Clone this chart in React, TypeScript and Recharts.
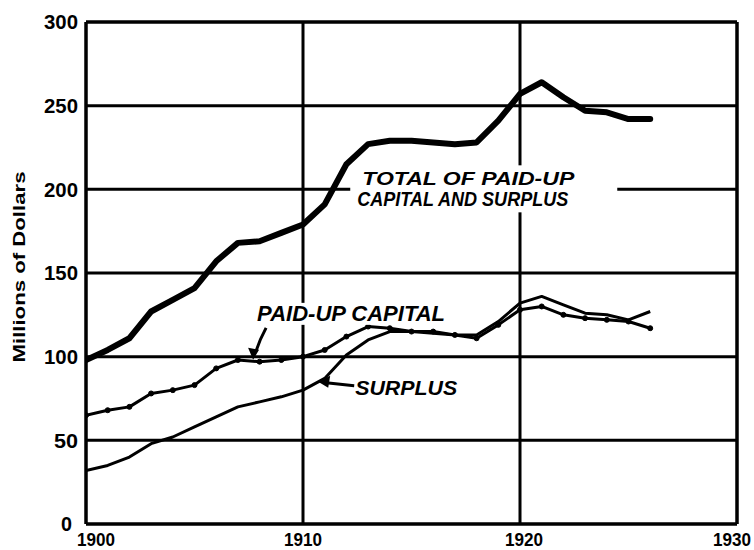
import React from 'react';
import { LineChart, Line, XAxis, YAxis, CartesianGrid, ReferenceDot, ReferenceLine } from 'recharts';

const years = [1900, 1901, 1902, 1903, 1904, 1905, 1906, 1907, 1908, 1909, 1910, 1911, 1912, 1913, 1914, 1915, 1916, 1917, 1918, 1919, 1920, 1921, 1922, 1923, 1924, 1925, 1926];
const paidUpCapital = [65, 68, 70, 78, 80, 83, 93, 98, 97, 98, 100, 104, 112, 118, 117, 115, 115, 113, 111, 119, 128, 130, 125, 123, 122, 121, 117];
const surplus = [32, 35, 40, 48, 52, 58, 64, 70, 73, 76, 80, 87, 101, 110, 115, 115, 114, 113, 113, 121, 132, 136, 131, 126, 125, 122, 127];
const totalCapitalSurplus = [98, 104, 111, 127, 134, 141, 157, 168, 169, 174, 179, 191, 215, 227, 229, 229, 228, 227, 228, 241, 257, 264, 255, 247, 246, 242, 242];

const xTicks = [1900, 1910, 1920, 1930];
const yTicks = [0, 50, 100, 150, 200, 250, 300];

const yAxisTitle = 'Millions of Dollars';
const totalLabelLines = ['TOTAL OF PAID-UP', 'CAPITAL AND SURPLUS'];
const paidUpLabel = 'PAID-UP CAPITAL';
const surplusLabel = 'SURPLUS';

// annotation anchors in data coordinates
const totalLabelAnchor = { year: 1912.5, value: 200 };
const paidUpArrowTip = { year: 1907.7, value: 97.5 };
const surplusArrowTip = { year: 1910.7, value: 85 };

const data = years.map((year, i) => ({
  year,
  paid: paidUpCapital[i],
  surplus: surplus[i],
  total: totalCapitalSurplus[i],
}));

const FONT = '"Liberation Sans", Arial, Helvetica, sans-serif';

const center = (props: any) => {
  const vb = props.viewBox || {};
  return { cx: (vb.x || 0) + (vb.width || 0) / 2, cy: (vb.y || 0) + (vb.height || 0) / 2 };
};

const XTick = (props: any) => {
  const { x, y, payload } = props;
  const v = payload.value;
  const shift = v === 1900 ? 10 : v === 1920 ? 4 : v === 1930 ? -5 : 0;
  return (
    <text x={x + shift} y={y} dy="0.78em" textAnchor="middle" fontFamily={FONT} fontWeight={700} fontSize={18} textLength={38} lengthAdjust="spacingAndGlyphs" fill="#000">
      {v}
    </text>
  );
};

const YTick = (props: any) => {
  const { x, y, payload } = props;
  const v = payload.value;
  const s = String(v);
  const len = s.length === 3 ? 34 : s.length === 2 ? 24 : 11;
  return (
    <text x={v === 0 ? x - 6 : x} y={y} dy="0.36em" textAnchor="end" fontFamily={FONT} fontWeight={700} fontSize={20} textLength={len} lengthAdjust="spacingAndGlyphs" fill="#000">
      {s}
    </text>
  );
};

const YTitle = (props: any) => {
  const vb = props.viewBox || { x: 0, y: 0, width: 0, height: 0 };
  const x = vb.x + 25;
  const y = vb.y + vb.height / 2 - 6;
  return (
    <text
      x={x}
      y={y}
      transform={`rotate(-90 ${x} ${y})`}
      textAnchor="middle"
      fontFamily={FONT}
      fontWeight={700}
      fontSize={17}
      textLength={191}
      lengthAdjust="spacingAndGlyphs"
      fill="#000"
    >
      {yAxisTitle}
    </text>
  );
};

const TotalLabel = (props: any) => {
  const { cx, cy } = center(props);
  return (
    <g>
      <rect x={cx - 7} y={cy - 24} width={267} height={47} fill="#fff" />
      <text x={cx + 5} y={cy - 4} fontFamily={FONT} fontWeight={700} fontStyle="italic" fontSize={19} textLength={212} lengthAdjust="spacingAndGlyphs" fill="#000">
        {totalLabelLines[0]}
      </text>
      <text x={cx} y={cy + 17} fontFamily={FONT} fontWeight={700} fontStyle="italic" fontSize={20} textLength={211} lengthAdjust="spacingAndGlyphs" fill="#000">
        {totalLabelLines[1]}
      </text>
    </g>
  );
};

const PaidUpLabel = (props: any) => {
  const { cx, cy } = center(props);
  return (
    <g>
      <rect x={cx + 1} y={cy - 58} width={194} height={22} fill="#fff" />
      <path d={`M${cx + 13},${cy - 33} Q${cx + 7},${cy - 22} ${cx + 3},${cy - 10}`} stroke="#000" strokeWidth={3} fill="none" />
      <polygon points={`${cx},${cy - 1} ${cx - 5},${cy - 13} ${cx + 6},${cy - 11}`} fill="#000" />
      <text x={cx + 4} y={cy - 40} fontFamily={FONT} fontWeight={700} fontStyle="italic" fontSize={22} textLength={188} lengthAdjust="spacingAndGlyphs" fill="#000">
        {paidUpLabel}
      </text>
    </g>
  );
};

const SurplusLabel = (props: any) => {
  const { cx, cy } = center(props);
  return (
    <g>
      <path d={`M${cx + 8},${cy + 1} L${cx + 36},${cy + 4}`} stroke="#000" strokeWidth={3} fill="none" />
      <polygon points={`${cx},${cy} ${cx + 12},${cy - 6} ${cx + 10},${cy + 6}`} fill="#000" />
      <text x={cx + 37} y={cy + 13} fontFamily={FONT} fontWeight={700} fontStyle="italic" fontSize={21} textLength={102} lengthAdjust="spacingAndGlyphs" fill="#000">
        {surplusLabel}
      </text>
    </g>
  );
};

export default function App() {
  return (
    <div style={{ position: 'absolute', left: 0, top: 0, width: 754, height: 550, background: '#fff', overflow: 'hidden' }}>
      <LineChart width={754} height={550} data={data} margin={{ top: 22, right: 17, bottom: 0, left: 0 }}>
        <CartesianGrid stroke="#000" strokeWidth={3} horizontal vertical />
        <XAxis
          dataKey="year"
          type="number"
          domain={[1900, 1930]}
          ticks={xTicks}
          height={26}
          axisLine={{ stroke: '#000', strokeWidth: 3 }}
          tickLine={false}
          tick={<XTick />}
          interval={0}
          allowDataOverflow
        />
        <YAxis
          type="number"
          domain={[0, 300]}
          ticks={yTicks}
          width={86}
          axisLine={{ stroke: '#000', strokeWidth: 3 }}
          tickLine={false}
          tick={<YTick />}
          interval={0}
          label={(p: any) => <YTitle {...p} />}
        />
        <ReferenceLine x={1930} stroke="#000" strokeWidth={3} ifOverflow="visible" />
        <ReferenceLine y={300} stroke="#000" strokeWidth={3} ifOverflow="visible" />
        <Line type="linear" dataKey="total" stroke="#000" strokeWidth={6} dot={false} isAnimationActive={false} strokeLinejoin="round" strokeLinecap="round" />
        <Line type="linear" dataKey="surplus" stroke="#000" strokeWidth={3} dot={false} isAnimationActive={false} strokeLinejoin="round" />
        <Line type="linear" dataKey="paid" stroke="#000" strokeWidth={3} dot={{ r: 2.5, fill: '#000', stroke: '#000', strokeWidth: 1 }} isAnimationActive={false} strokeLinejoin="round" />
        <ReferenceDot x={totalLabelAnchor.year} y={totalLabelAnchor.value} r={0} fill="none" stroke="none" label={(p: any) => <TotalLabel {...p} />} />
        <ReferenceDot x={paidUpArrowTip.year} y={paidUpArrowTip.value} r={0} fill="none" stroke="none" label={(p: any) => <PaidUpLabel {...p} />} />
        <ReferenceDot x={surplusArrowTip.year} y={surplusArrowTip.value} r={0} fill="none" stroke="none" label={(p: any) => <SurplusLabel {...p} />} />
      </LineChart>
    </div>
  );
}
